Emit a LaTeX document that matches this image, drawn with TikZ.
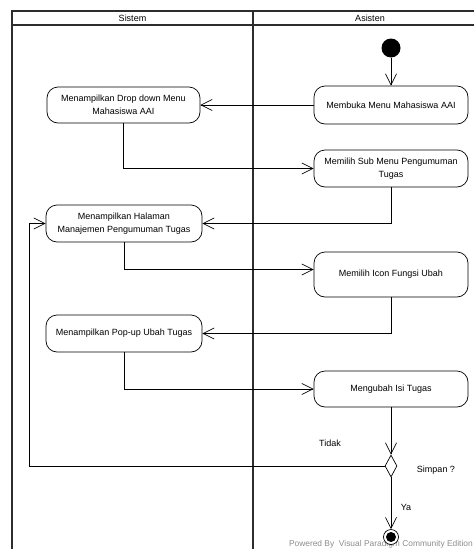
\documentclass[tikz,border=0pt]{standalone}
\usepackage{fontspec}
\setmainfont{Liberation Sans}
\usetikzlibrary{arrows.meta,shapes.geometric}
\definecolor{lanegray}{RGB}{45,45,45}
\definecolor{markgray}{RGB}{140,140,140}

\begin{document}
\begin{tikzpicture}[x=1pt, y=-1pt, >={Straight Barb[length=11pt,width=11pt]},
    act/.style={draw, line width=0.7pt, fill=white, rounded corners=11pt, minimum width=154pt,
        minimum height=37pt, align=center, inner sep=2pt, font=\fontsize{9}{13}\selectfont},
    flow/.style={->, line width=0.7pt},
    lbl/.style={font=\fontsize{9}{11}\selectfont, inner sep=1pt}]
    \useasboundingbox (0,0) rectangle (474,549);

    % Swimlanes
    \draw[line width=1.6pt, lanegray] (474,11) -- (12,11) -- (12,549);
    \draw[line width=1.6pt, lanegray] (12,25) -- (474,25);
    \draw[line width=1.6pt, lanegray] (253,11) -- (253,549);
    \node[lbl] (sistem) at (132.5,18) {Sistem};
    \node[lbl] (asisten) at (370,18) {Asisten};

    % Watermark
    \node[anchor=south east, text=markgray, font=\fontsize{8.4}{9}\selectfont, inner sep=1pt]
        (vpmark) at (474,549) {Powered By\ \ Visual Paradigm Community Edition};

    % Activities
    \node[circle, fill=black, minimum size=19pt, inner sep=0pt] (start) at (391,48) {};
    \node[act, minimum height=38pt] (membuka) at (391,105) {Membuka Menu Mahasiswa AAI};
    \node[act, minimum width=153pt, minimum height=36pt] (dropdown) at (123.5,105)
        {Menampilkan Drop down Menu\\Mahasiswa AAI};
    \node[act] (submenu) at (391,168.5) {Memilih Sub Menu Pengumuman\\Tugas};
    \node[act, minimum width=156pt] (halaman) at (124,223.5)
        {Menampilkan Halaman\\Manajemen Pengumuman Tugas};
    \node[act, minimum height=45pt] (icon) at (391,274.5) {Memilih Icon Fungsi Ubah};
    \node[act, minimum width=156pt] (popup) at (124,333.5) {Menampilkan Pop-up Ubah Tugas};
    \node[act, minimum height=36pt] (ubah) at (391,389) {Mengubah Isi Tugas};

    % Decision and end
    \node[diamond, draw, line width=0.7pt, fill=white, minimum width=12pt, minimum height=22pt,
        inner sep=0pt] (simpan) at (391,466) {};
    \node[circle, draw, line width=0.7pt, fill=white, minimum size=15pt, inner sep=0pt]
        (stop) at (391,537) {};
    \node[circle, fill=black, minimum size=10pt, inner sep=0pt] (stopdot) at (stop) {};

    \node[lbl] (tidak) at (330,443) {Tidak};
    \node[lbl] (tanya) at (436,470) {Simpan ?};
    \node[lbl] (ya) at (406,507) {Ya};

    % Flows
    \draw[flow] (start) -- (membuka);
    \draw[flow] (membuka) -- (dropdown);
    \draw[flow] (dropdown.south) |- (submenu.west);
    \draw[flow] (submenu.south) |- (halaman.east);
    \draw[flow] (halaman.south) |- ([yshift=5pt]icon.west);
    \draw[flow] (icon.south) |- (popup.east);
    \draw[flow] (popup.south) |- (ubah.west);
    \draw[flow] (ubah) -- (simpan);
    \draw[flow] (simpan) -- (stop);
    \coordinate (balik) at (29,223.5);
    \draw[flow] (simpan.west) -| (balik) -- (halaman.west);
\end{tikzpicture}
\end{document}
